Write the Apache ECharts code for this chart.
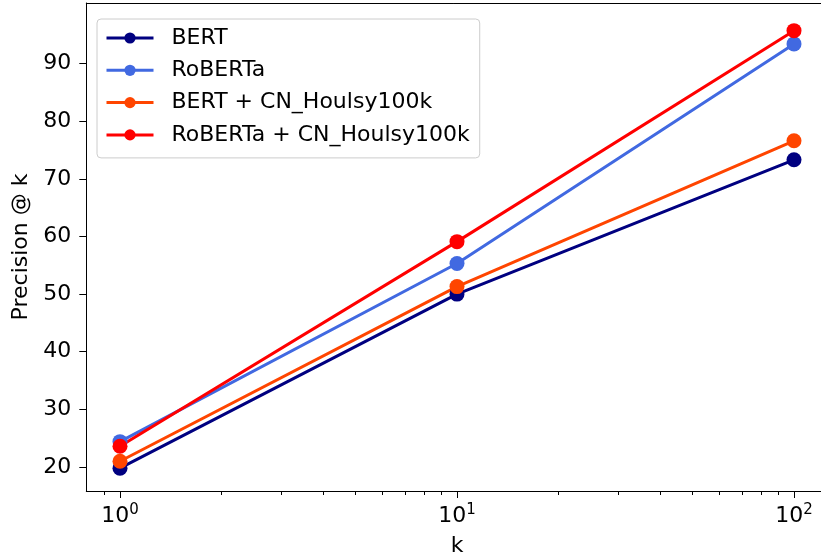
<!DOCTYPE html>
<html>
<head>
<meta charset="utf-8">
<script src="https://cdn.jsdelivr.net/npm/echarts@6/dist/echarts.min.js"></script>
<style>
  html, body { margin: 0; padding: 0; background: #fff; }
  #chart { width: 821px; height: 560px; }
</style>
</head>
<body>
<div id="chart"></div>
<script>
const ks = [1, 10, 100]
const bert = [19.8, 50.0, 73.3]
const roberta = [24.4, 55.3, 93.4]
const bertCN = [21.0, 51.3, 76.6]
const robertaCN = [23.6, 59.1, 95.7]
const names = ['BERT', 'RoBERTa', 'BERT + CN_Houlsy100k', 'RoBERTa + CN_Houlsy100k']
const colors = ['#000080', '#4169e1', '#ff4500', '#ff0000']
const yTicks = [20, 30, 40, 50, 60, 70, 80, 90]
const xMajor = [1, 10, 100]
const xMinor = [0.9, 2, 3, 4, 5, 6, 7, 8, 9, 20, 30, 40, 50, 60, 70, 80, 90]

const font = 'DejaVu Sans'
const fs = 22
const chart = echarts.init(document.getElementById('chart'))

const toPairs = (vals) => vals.map((v, i) => [ks[i], v])

const mkSeries = (name, vals, color) => ({
  name: name,
  type: 'line',
  data: toPairs(vals),
  symbol: 'circle',
  symbolSize: 15,
  color: color,
  lineStyle: { width: 3, color: color },
  itemStyle: { color: color },
  animation: false,
})

// top spine only (right spine lies outside the picture)
chart.setOption({
  animation: false,
  grid: {
    left: 86.3,
    top: 3,
    width: 741.4,
    height: 488,
    outerBoundsMode: 'none',
  },
  legend: {
    orient: 'vertical',
    left: 97,
    top: 19,
    padding: [8, 10, 12, 8],
    itemWidth: 47,
    itemHeight: 14,
    itemGap: 10.3,
    backgroundColor: 'rgba(255,255,255,0.8)',
    borderColor: '#cccccc',
    borderWidth: 1,
    borderRadius: 4,
    lineStyle: { width: 3 },
    textStyle: {
      fontFamily: font,
      fontSize: fs,
      color: '#000',
      padding: [0, 0, 0, 13],
    },
    data: names,
  },
  xAxis: [
    {
      type: 'log',
      logBase: 10,
      position: 'bottom',
      min: Math.pow(10, -0.1),
      max: Math.pow(10, 2.1),
      name: 'k',
      nameLocation: 'middle',
      nameGap: 44,
      nameTextStyle: { fontFamily: font, fontSize: fs, color: '#000' },
      axisLine: { show: true, lineStyle: { color: '#000', width: 1 } },
      axisTick: {
        show: true,
        inside: false,
        length: 7,
        lineStyle: { color: '#000', width: 1 },
        customValues: xMajor,
      },
      axisLabel: {
        fontFamily: font,
        color: '#000',
        margin: 12,
        customValues: xMajor,
        formatter: (v) => '{b|10}{s|' + Math.round(Math.log10(v)) + '}',
        rich: {
          b: { fontFamily: font, fontSize: fs, color: '#000', verticalAlign: 'bottom', lineHeight: 24 },
          s: { fontFamily: font, fontSize: 15, color: '#000', verticalAlign: 'top', lineHeight: 15 },
        },
      },
      splitLine: { show: false },
    },
    {
      type: 'log',
      logBase: 10,
      position: 'bottom',
      min: Math.pow(10, -0.1),
      max: Math.pow(10, 2.1),
      axisLine: { show: false },
      axisTick: {
        show: true,
        inside: false,
        length: 4,
        lineStyle: { color: '#000', width: 1 },
        customValues: xMinor,
      },
      axisLabel: { show: false },
      splitLine: { show: false },
    },
    {
      type: 'log',
      logBase: 10,
      position: 'top',
      min: Math.pow(10, -0.1),
      max: Math.pow(10, 2.1),
      axisLine: { show: true, lineStyle: { color: '#000', width: 1 } },
      axisTick: { show: false },
      axisLabel: { show: false },
      splitLine: { show: false },
    },
  ],
  yAxis: {
    type: 'value',
    min: 15.84,
    max: 100.5,
    name: 'Precision @ k',
    nameLocation: 'middle',
    nameGap: 52,
    nameTextStyle: { fontFamily: font, fontSize: fs, color: '#000' },
    axisLine: { show: true, lineStyle: { color: '#000', width: 1 } },
    axisTick: {
      show: true,
      inside: false,
      length: 7,
      lineStyle: { color: '#000', width: 1 },
      customValues: yTicks,
    },
    axisLabel: {
      fontFamily: font,
      fontSize: fs,
      color: '#000',
      margin: 15,
      customValues: yTicks,
    },
    splitLine: { show: false },
  },
  series: [
    mkSeries(names[0], bert, colors[0]),
    mkSeries(names[1], roberta, colors[1]),
    mkSeries(names[2], bertCN, colors[2]),
    mkSeries(names[3], robertaCN, colors[3]),
  ],
})
</script>
</body>
</html>
